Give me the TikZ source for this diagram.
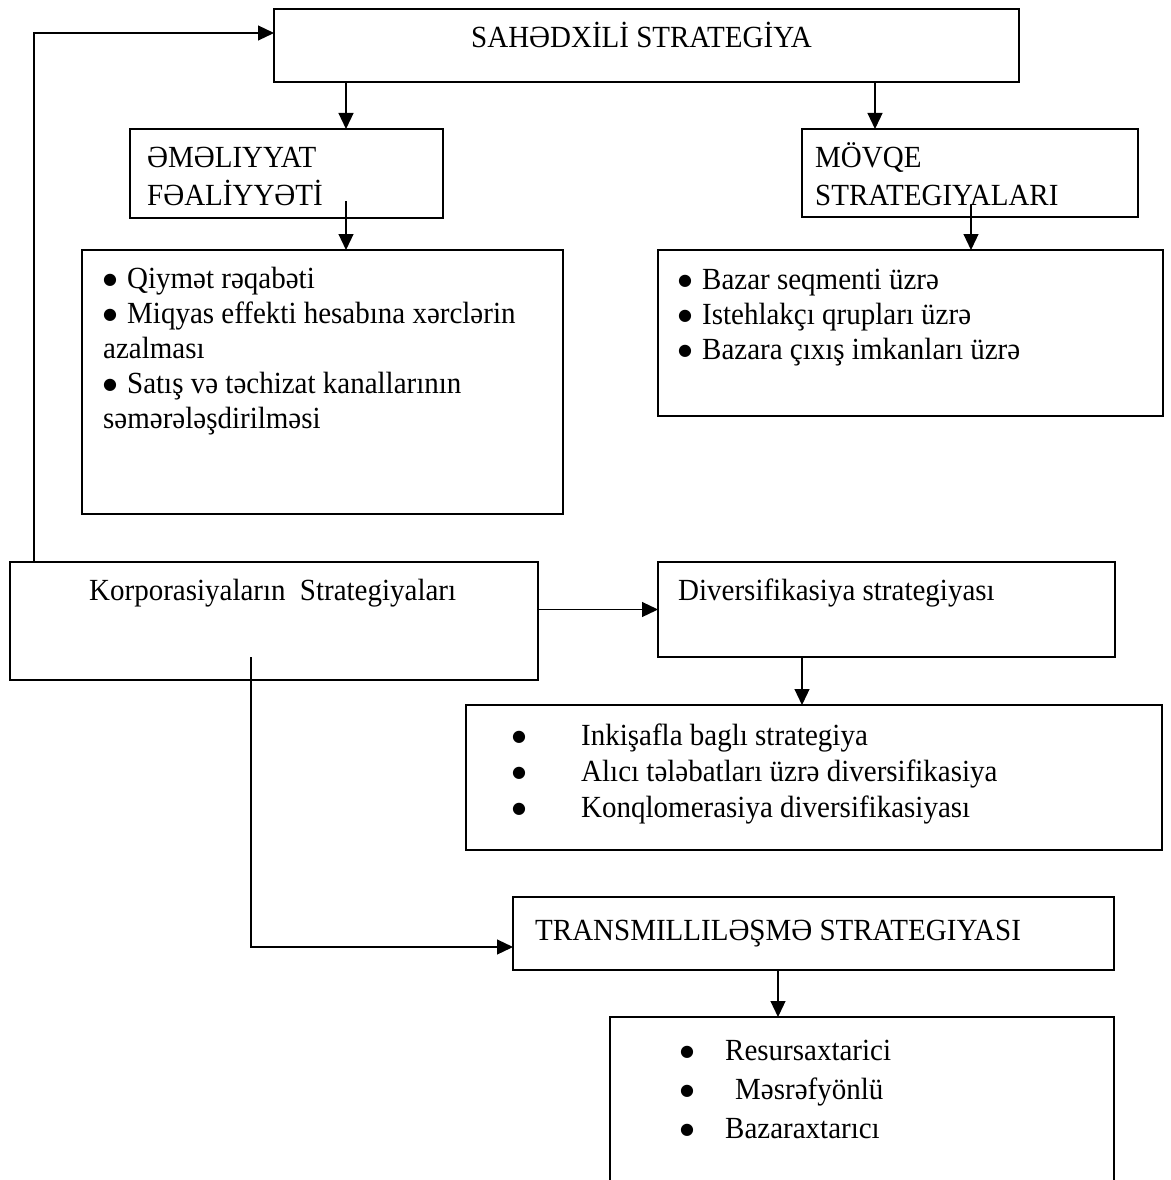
\documentclass[tikz,border=0pt]{standalone}
\usepackage{fontspec}
\usepackage{graphicx}
\setmainfont{Liberation Serif}
\newfontfamily\bulfont{DejaVu Sans}
\usetikzlibrary{arrows.meta}
\newcommand{\tallt}[1]{\scalebox{1}[1.06]{#1}}
\newcommand{\bigbul}{\raisebox{3.5pt}{\bulfont\fontsize{16}{16}\selectfont ●}}
\begin{document}
\begin{tikzpicture}[x=1pt,y=-1pt,
  box/.style={draw, line width=1.5pt, anchor=north west, inner sep=0pt, outer sep=0pt},
  txt/.style={anchor=base west, inner sep=0pt, font=\fontsize{29}{35}\selectfont},
  arr/.style={line width=1.2pt, -{Triangle[length=16pt,width=15pt]}}]
\useasboundingbox (0,0) rectangle (1170,1180);
\fill[white] (0,0) rectangle (1170,1180);
\clip (0,0) rectangle (1170,1180);

% boxes
\node[box, minimum width=745pt, minimum height=73pt] (sahe) at (274,9) {};
\node[box, minimum width=313pt, minimum height=89pt] (emel) at (130,129) {};
\node[box, minimum width=336pt, minimum height=88pt] (movq) at (802,129) {};
\node[box, minimum width=481pt, minimum height=264pt] (bul1) at (82,250) {};
\node[box, minimum width=505pt, minimum height=166pt] (bul2) at (658,250) {};
\node[box, minimum width=528pt, minimum height=118pt] (korp) at (10,562) {};
\node[box, minimum width=457pt, minimum height=95pt] (div) at (658,562) {};
\node[box, minimum width=696pt, minimum height=145pt] (bul3) at (466,705) {};
\node[box, minimum width=601pt, minimum height=73pt] (trans) at (513,897) {};
\node[box, minimum width=504pt, minimum height=220pt] (bot) at (610,1017) {};

% texts
\node[txt] (t-sahe) at (471,48) {\tallt{SAHƏDXİLİ STRATEGİYA}};
\node[txt] (t-emel1) at (147,167) {\tallt{ƏMƏLIYYAT}};
\node[txt] (t-emel2) at (147,205) {\tallt{FƏALİYYƏTİ}};
\node[txt] (t-movq1) at (815,167) {\tallt{MÖVQE}};
\node[txt] (t-movq2) at (815,205) {\tallt{STRATEGIYALARI}};

\node[txt] (t-b1a) at (103,288) {\bigbul\hspace{10pt}\tallt{Qiymət rəqabəti}};
\node[txt] (t-b1b) at (103,323) {\bigbul\hspace{10pt}\tallt{Miqyas effekti hesabına xərclərin}};
\node[txt] (t-b1c) at (103,358) {\tallt{azalması}};
\node[txt] (t-b1d) at (103,393) {\bigbul\hspace{10pt}\tallt{Satış və təchizat kanallarının}};
\node[txt] (t-b1e) at (103,428) {\tallt{səmərələşdirilməsi}};

\node[txt] (t-b2a) at (678,289) {\bigbul\hspace{10pt}\tallt{Bazar seqmenti üzrə}};
\node[txt] (t-b2b) at (678,324) {\bigbul\hspace{10pt}\tallt{Istehlakçı qrupları üzrə}};
\node[txt] (t-b2c) at (678,359) {\bigbul\hspace{10pt}\tallt{Bazara çıxış imkanları üzrə}};

\node[txt] (t-korp) at (89,600) {\tallt{Korporasiyaların\hspace{7pt} Strategiyaları}};
\node[txt] (t-div) at (678,600) {\tallt{Diversifikasiya strategiyası}};

\node[txt] (t-b3d1) at (512,745) {\bigbul};
\node[txt] (t-b3d2) at (512,781) {\bigbul};
\node[txt] (t-b3d3) at (512,817) {\bigbul};
\node[txt] (t-b3a) at (581,745) {\tallt{Inkişafla baglı strategiya}};
\node[txt] (t-b3b) at (581,781) {\tallt{Alıcı tələbatları üzrə diversifikasiya}};
\node[txt] (t-b3c) at (581,817) {\tallt{Konqlomerasiya diversifikasiyası}};

\node[txt] (t-trans) at (535,940) {\tallt{TRANSMILLILƏŞMƏ STRATEGIYASI}};

\node[txt] (t-b4d1) at (680,1060) {\bigbul};
\node[txt] (t-b4d2) at (680,1099) {\bigbul};
\node[txt] (t-b4d3) at (680,1138) {\bigbul};
\node[txt] (t-b4a) at (725,1060) {\tallt{Resursaxtarici}};
\node[txt] (t-b4b) at (735,1099) {\tallt{Məsrəfyönlü}};
\node[txt] (t-b4c) at (725,1138) {\tallt{Bazaraxtarıcı}};

% connectors
\coordinate (fb) at (34,33);
\draw[arr] (korp.north -| fb) -- (fb) -- (sahe.west |- fb);
\coordinate (a1) at (346,0);
\draw[arr] (sahe.south -| a1) -- (emel.north -| a1);
\coordinate (a2) at (875,0);
\draw[arr] (sahe.south -| a2) -- (movq.north -| a2);
\coordinate (s3) at (346,201);
\draw[arr] (s3) -- (bul1.north -| s3);
\coordinate (s4) at (971,205);
\draw[arr] (s4) -- (bul2.north -| s4);
\draw[arr] (korp.east |- div.west) -- (div.west);
\coordinate (a5) at (802,0);
\draw[arr] (div.south -| a5) -- (bul3.north -| a5);
\coordinate (s6) at (251,657);
\coordinate (c6) at (251,947);
\draw[arr] (s6) -- (c6) -- (trans.west |- c6);
\coordinate (a7) at (778,0);
\draw[arr] (trans.south -| a7) -- (bot.north -| a7);
\end{tikzpicture}
\end{document}
